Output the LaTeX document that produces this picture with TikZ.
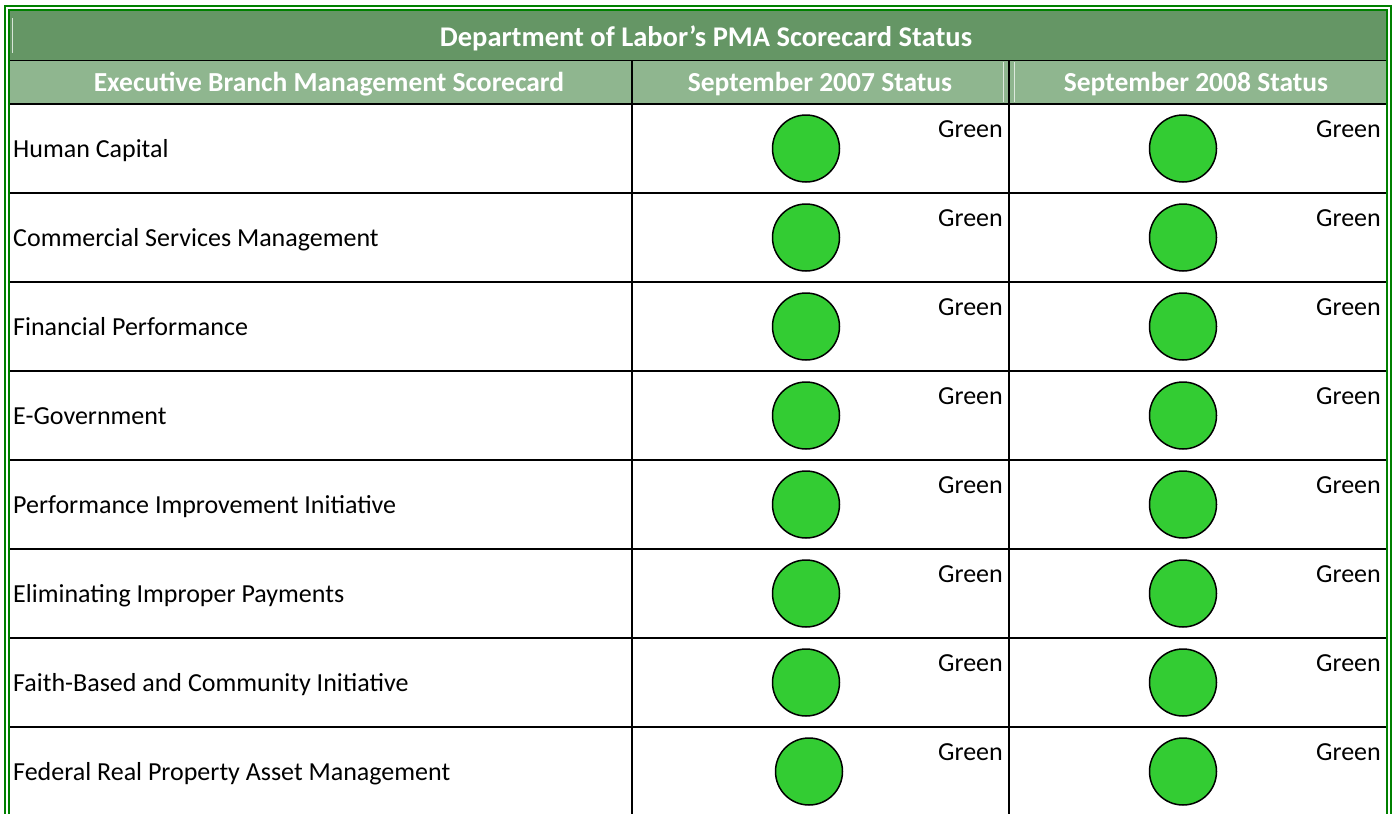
\documentclass[tikz,border=0pt]{standalone}
\usepackage{fontspec}
\setmainfont{Carlito}
\usepackage{xcolor}
\usepackage{tikz}
\definecolor{bandgreen}{RGB}{101,150,101}
\definecolor{subgreen}{RGB}{143,182,143}
\definecolor{framegreen}{RGB}{0,128,0}
\definecolor{lampfill}{RGB}{51,204,51}

\begin{document}
\begin{tikzpicture}[x=1pt,y=-1pt,
 head/.style={text=white,inner sep=0pt,anchor=base,font=\fontsize{27.5}{30}\selectfont\bfseries},
 item/.style={anchor=base west,inner sep=0pt,font=\fontsize{26}{30}\selectfont},
 statustext/.style={anchor=base east,inner sep=0pt,font=\fontsize{26}{30}\selectfont},
 lamp/.style={circle,draw=black,line width=1.5pt,fill=lampfill,minimum size=67pt,inner sep=0pt}]
 \path[use as bounding box] (0,0) rectangle (1393,814);
\fill[bandgreen] (9,10) rectangle (1387,60);
\fill[subgreen] (9,60) rectangle (1387,104);
\draw[white!75!bandgreen, line width=0.8pt] (12,18) -- (12,53);
\draw[white!70!subgreen, line width=0.8pt] (1003,62) -- (1003,102);
\draw[white!70!subgreen, line width=0.8pt] (1014,62) -- (1014,102);
\draw[line width=1pt] (9,60) -- (1387,60);
\draw[line width=2pt] (9,104) -- (1387,104);
\foreach \y in {193,282,371,460,549,638,727}
	\draw[line width=2pt] (9,\y) -- (1387,\y);
\draw[line width=2pt] (632,60) -- (632,814);
\draw[line width=2pt] (1009,60) -- (1009,814);
\draw[framegreen, line width=1.8pt] (5,814) -- (5,6) -- (1391,6) -- (1391,814);
\draw[framegreen, line width=1.8pt] (9,814) -- (9,10) -- (1387,10) -- (1387,814);

\node[head, font=\fontsize{28.5}{32}\selectfont\bfseries] (title) at (706,46) {Department of Labor’s PMA Scorecard Status};
\node[head] (headA) at (329,91) {Executive Branch Management Scorecard};
\node[head] (headB) at (820,91) {September 2007 Status};
\node[head] (headC) at (1196,91) {September 2008 Status};

\foreach \name/\shift [count=\i] in {Human Capital/0, Commercial Services Management/0, Financial Performance/0, E-Government/0, Performance Improvement Initiative/0, Eliminating Improper Payments/0, Faith-Based and Community Initiative/0, Federal Real Property Asset Management/3}
{
	\pgfmathsetmacro{\rowtop}{104+89*(\i-1)}
	\node[item] (item\i) at (13,\rowtop+53) {\name};
	\node[lamp] (lampA\i) at (806+\shift,\rowtop+44.5) {};
	\node[lamp] (lampB\i) at (1183,\rowtop+44.5) {};
	\node[statustext] (statA\i) at (1003,\rowtop+33) {Green};
	\node[statustext] (statB\i) at (1381,\rowtop+33) {Green};
}

\end{tikzpicture}
\end{document}
